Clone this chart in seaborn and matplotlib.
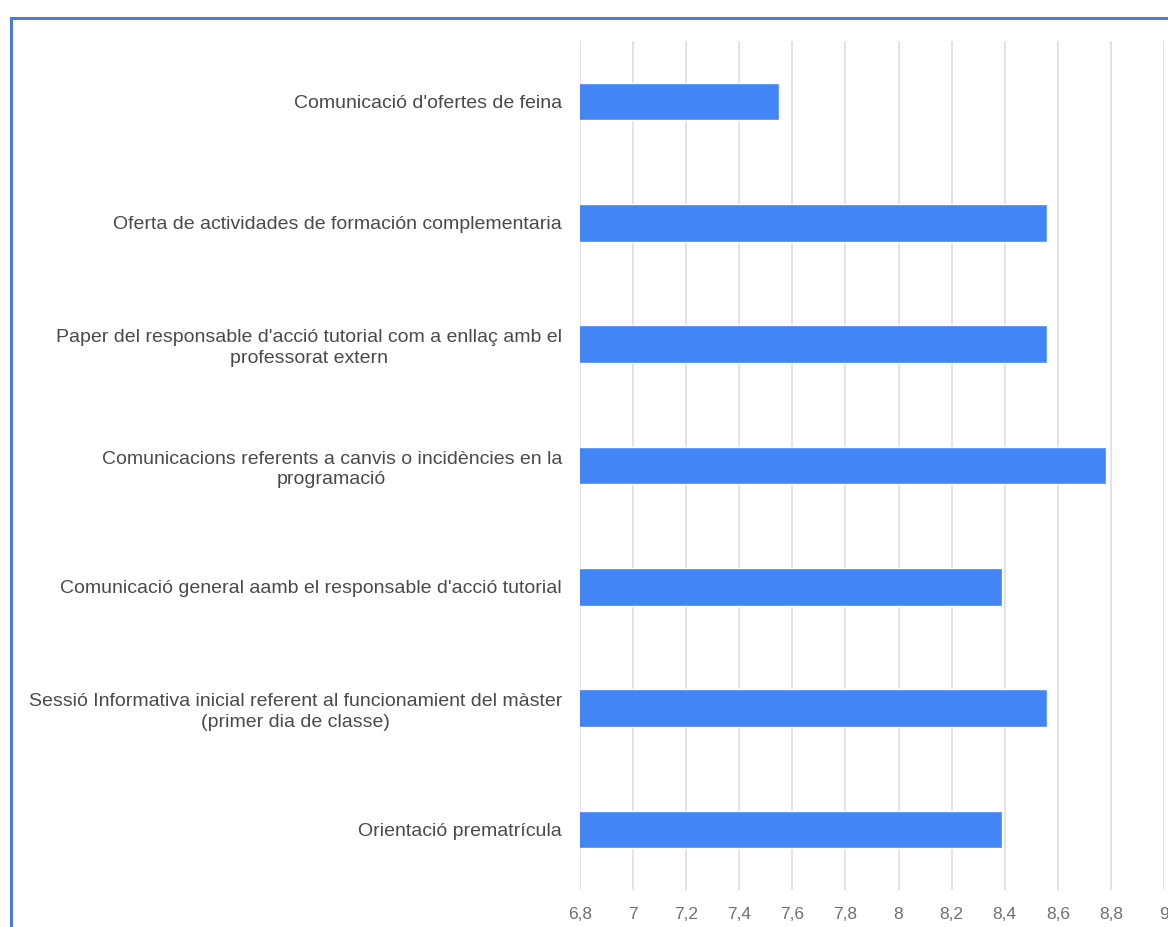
import matplotlib
matplotlib.use("Agg")
import matplotlib.pyplot as plt
import seaborn as sns
import pandas as pd
from matplotlib.ticker import FuncFormatter, MultipleLocator
from matplotlib.patches import Rectangle

categories = [
    "Comunicació d'ofertes de feina",
    "Oferta de actividades de formación complementaria",
    "Paper del responsable d'acció tutorial com a enllaç amb el\nprofessorat extern",
    "Comunicacions referents a canvis o incidències en la\nprogramació",
    "Comunicació general aamb el responsable d'acció tutorial",
    "Sessió Informativa inicial referent al funcionamient del màster\n(primer dia de classe)",
    "Orientació prematrícula",
]
values = [7.55, 8.56, 8.56, 8.78, 8.39, 8.56, 8.39]

df = pd.DataFrame({"cat": categories, "val": values})

sns.set_theme(style="white")
plt.rcParams["font.family"] = ["Liberation Sans", "DejaVu Sans"]

fig = plt.figure(figsize=(11.68, 9.27), dpi=100)
ax = fig.add_axes([580 / 1168, 1 - 890 / 927, (1164 - 580) / 1168, (890 - 41) / 927])

sns.barplot(data=df, y="cat", x="val", orient="h", color="#4285F4",
            saturation=1, width=0.31, ax=ax)

ax.set_xlim(6.8, 9.0)
ax.xaxis.set_major_locator(MultipleLocator(0.2))
ax.xaxis.set_major_formatter(FuncFormatter(
    lambda v, p: (f"{v:.1f}".rstrip("0").rstrip(".")).replace(".", ",")))
ax.grid(axis="x", color="#e0e0e0", linewidth=1.3)
ax.set_axisbelow(True)
for s in ax.spines.values():
    s.set_visible(False)
ax.set_xlabel("")
ax.set_ylabel("")
ax.tick_params(axis="x", length=0, pad=12, labelsize=12.5, labelcolor="#707070")
ax.tick_params(axis="y", length=0, pad=13, labelsize=14, labelcolor="#4a4a4a")
for t in ax.get_yticklabels():
    t.set_multialignment("center")
    t.set_linespacing(1.3)

fig.patches.append(Rectangle((11 / 1168, -0.1), 1.2, 1 - 18 / 927 + 0.1,
                             transform=fig.transFigure, fill=False,
                             edgecolor="#4a7bd6", linewidth=2.2, zorder=10))

fig.savefig("out.png", dpi=100)
